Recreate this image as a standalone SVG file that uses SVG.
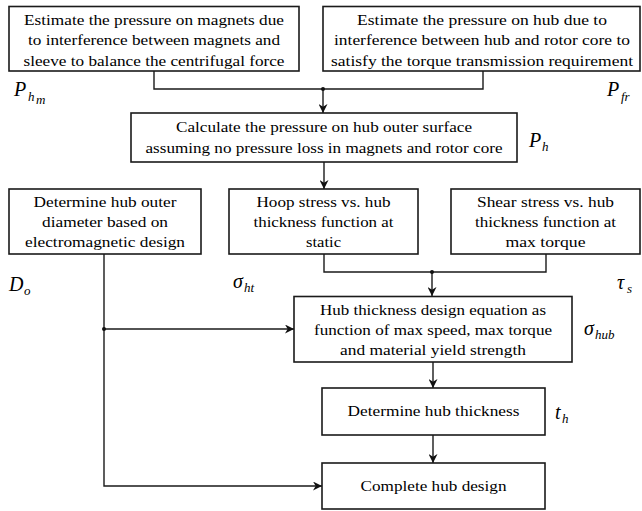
<svg xmlns="http://www.w3.org/2000/svg" width="642" height="511" viewBox="0 0 642 511">
<defs>
<marker id="ah" viewBox="0 0 10 10" refX="10" refY="5" markerWidth="9" markerHeight="9" markerUnits="userSpaceOnUse" orient="auto">
<path d="M0,0 L10,5 L0,10 L3,5 Z" fill="#111"/>
</marker>
<style>
.box{fill:#fff;stroke:#1a1a1a;stroke-width:1.6}
.t{font-family:"Liberation Serif",serif;font-size:14px;fill:#000;text-anchor:middle}
.m{font-family:"Liberation Serif",serif;font-style:italic;fill:#000}
.c{fill:none;stroke:#1a1a1a;stroke-width:1.4}
.dot{fill:#111}
</style>
</defs>
<rect width="642" height="511" fill="#fff"/>

<g id="connectors">
<path class="c" d="M154,71 V89 H483 V71"/>
<line class="c" x1="323" y1="89" x2="323" y2="113" marker-end="url(#ah)"/>
<circle class="dot" cx="323" cy="89" r="2"/>
<line class="c" x1="324" y1="162" x2="324" y2="189" marker-end="url(#ah)"/>
<path class="c" d="M324,254 V272 H546 V254"/>
<line class="c" x1="432" y1="272" x2="432" y2="296" marker-end="url(#ah)"/>
<circle class="dot" cx="432" cy="272" r="2"/>
<path class="c" d="M104,254 V486 H322" marker-end="url(#ah)"/>
<line class="c" x1="104" y1="329" x2="294" y2="329" marker-end="url(#ah)"/>
<circle class="dot" cx="104" cy="329" r="2"/>
<line class="c" x1="433" y1="362" x2="433" y2="388" marker-end="url(#ah)"/>
<line class="c" x1="433" y1="435" x2="433" y2="463" marker-end="url(#ah)"/>
</g>

<g id="n1">
<rect class="box" x="9" y="6.5" width="290" height="64.5"/>
<text class="t" x="154" y="24.5" textLength="260" lengthAdjust="spacingAndGlyphs">Estimate  the pressure on magnets due</text>
<text class="t" x="154" y="45" textLength="252" lengthAdjust="spacingAndGlyphs">to interference  between magnets and</text>
<text class="t" x="154" y="65.5" textLength="261" lengthAdjust="spacingAndGlyphs">sleeve to balance  the centrifugal  force</text>
</g>

<g id="n2">
<rect class="box" x="323" y="6.5" width="317" height="64.5"/>
<text class="t" x="482" y="24.5" textLength="250" lengthAdjust="spacingAndGlyphs">Estimate  the pressure on hub due to</text>
<text class="t" x="482" y="45" textLength="296" lengthAdjust="spacingAndGlyphs">interference  between hub and rotor core to</text>
<text class="t" x="482" y="65.5" textLength="302" lengthAdjust="spacingAndGlyphs">satisfy the torque transmission requirement</text>
</g>

<g id="lbl-phm">
<text class="m" x="14" y="96" font-size="20">P</text>
<text class="m" x="28" y="101" font-size="13">h</text>
<text class="m" x="36" y="104" font-size="13">m</text>
</g>
<g id="lbl-pfr">
<text class="m" x="607" y="96" font-size="20">P</text>
<text class="m" x="621" y="101" font-size="13">fr</text>
</g>

<g id="n3">
<rect class="box" x="131" y="113" width="386" height="49"/>
<text class="t" x="324" y="132" textLength="296" lengthAdjust="spacingAndGlyphs">Calculate  the pressure on hub outer surface</text>
<text class="t" x="324" y="153" textLength="357" lengthAdjust="spacingAndGlyphs">assuming no pressure loss in magnets and rotor core</text>
</g>
<g id="lbl-ph">
<text class="m" x="529" y="147" font-size="20">P</text>
<text class="m" x="542" y="151" font-size="13">h</text>
</g>

<g id="n4">
<rect class="box" x="9" y="189" width="192" height="65"/>
<text class="t" x="105" y="207" textLength="143" lengthAdjust="spacingAndGlyphs">Determine  hub outer</text>
<text class="t" x="105" y="227" textLength="126" lengthAdjust="spacingAndGlyphs">diameter  based on</text>
<text class="t" x="105" y="247" textLength="160" lengthAdjust="spacingAndGlyphs">electromagnetic  design</text>
</g>

<g id="n5">
<rect class="box" x="229" y="189" width="189" height="65"/>
<text class="t" x="323.5" y="207" textLength="134" lengthAdjust="spacingAndGlyphs">Hoop stress vs. hub</text>
<text class="t" x="323.5" y="227" textLength="140" lengthAdjust="spacingAndGlyphs">thickness function at</text>
<text class="t" x="323.5" y="247" textLength="35" lengthAdjust="spacingAndGlyphs">static</text>
</g>

<g id="n6">
<rect class="box" x="451" y="189" width="189" height="65"/>
<text class="t" x="545.5" y="207" textLength="137" lengthAdjust="spacingAndGlyphs">Shear stress vs. hub</text>
<text class="t" x="545.5" y="227" textLength="141" lengthAdjust="spacingAndGlyphs">thickness function at</text>
<text class="t" x="545.5" y="247" textLength="80" lengthAdjust="spacingAndGlyphs">max  torque</text>
</g>

<g id="lbl-do">
<text class="m" x="9" y="291" font-size="20">D</text>
<text class="m" x="24" y="295" font-size="13">o</text>
</g>
<g id="lbl-sht">
<text class="m" x="233" y="288" font-size="20">σ</text>
<text class="m" x="244" y="292" font-size="13">ht</text>
</g>
<g id="lbl-ts">
<text class="m" x="617" y="289" font-size="20">τ</text>
<text class="m" x="627" y="293" font-size="13">s</text>
</g>

<g id="n7">
<rect class="box" x="294" y="296.5" width="278" height="65.5"/>
<text class="t" x="433" y="315" textLength="226" lengthAdjust="spacingAndGlyphs">Hub thickness design equation as</text>
<text class="t" x="433" y="335" textLength="238" lengthAdjust="spacingAndGlyphs">function of max  speed, max  torque</text>
<text class="t" x="433" y="355" textLength="186" lengthAdjust="spacingAndGlyphs">and material  yield strength</text>
</g>
<g id="lbl-shub">
<text class="m" x="584" y="335" font-size="20">σ</text>
<text class="m" x="595" y="339" font-size="13">hub</text>
</g>

<g id="n8">
<rect class="box" x="322" y="388" width="223" height="47"/>
<text class="t" x="433.5" y="416" textLength="172" lengthAdjust="spacingAndGlyphs">Determine  hub thickness</text>
</g>
<g id="lbl-th">
<text class="m" x="555" y="419" font-size="20">t</text>
<text class="m" x="562" y="423" font-size="13">h</text>
</g>

<g id="n9">
<rect class="box" x="322" y="463" width="223" height="46"/>
<text class="t" x="433.5" y="491" textLength="146" lengthAdjust="spacingAndGlyphs">Complete  hub design</text>
</g>
</svg>
